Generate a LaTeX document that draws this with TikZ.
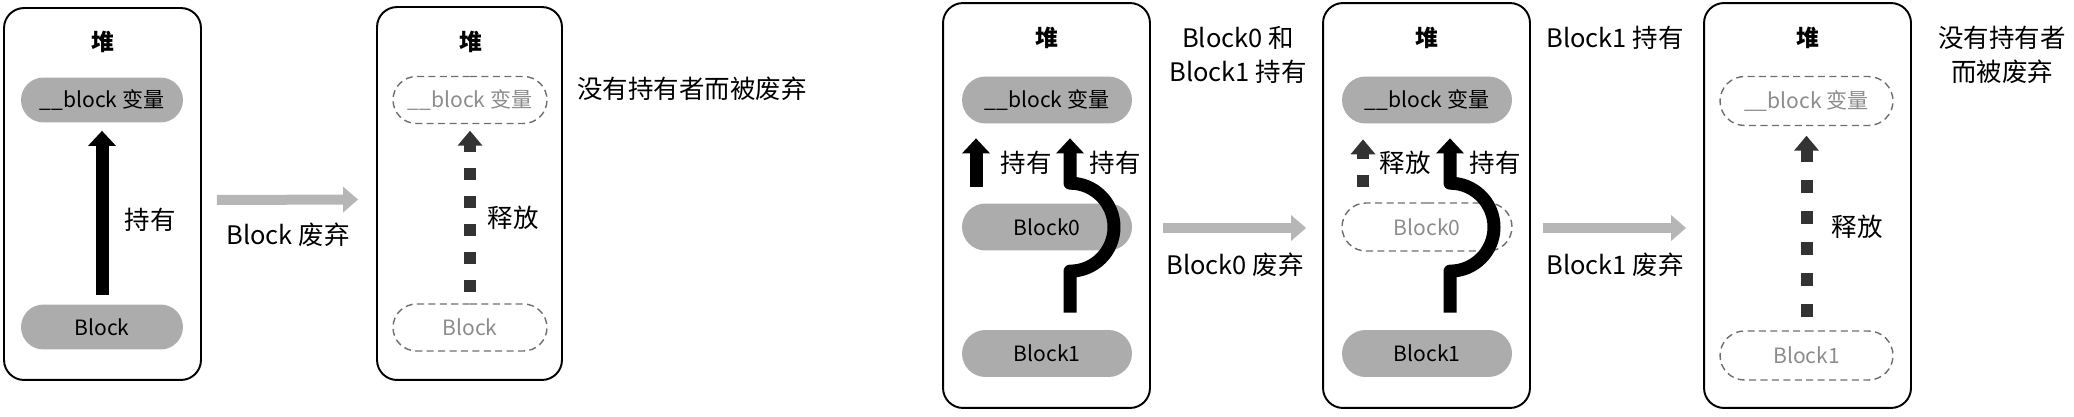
\documentclass[tikz,border=0pt]{standalone}
\usepackage{fontspec}
\setmainfont{Noto Sans CJK SC}
\usetikzlibrary{arrows.meta,shapes.misc}
\definecolor{pillgray}{RGB}{172,172,172}
\definecolor{arrowgray}{RGB}{182,182,182}
\definecolor{fadetext}{RGB}{140,140,140}
\definecolor{fadeline}{RGB}{110,110,110}
\begin{document}
\begin{tikzpicture}[x=0.02cm,y=0.02cm,
  heap/.style={draw,line width=1.1pt,rounded corners=0.4cm},
  heaptitle/.style={font=\fontsize{13}{15}\selectfont\bfseries},
  pill/.style={rounded rectangle,fill=pillgray,inner sep=0pt,font=\fontsize{12}{14}\selectfont},
  gone/.style={rounded rectangle,draw=fadeline,line width=0.8pt,dash pattern=on 4pt off 2.5pt,
    text=fadetext,inner sep=0pt,font=\fontsize{12}{14}\selectfont},
  note/.style={font=\fontsize{14.5}{19.3}\selectfont,align=center},
  hold/.style={line width=0.26cm,line join=round,-{Triangle[width=0.54cm,length=0.3cm]}},
  release/.style={black!80,line width=0.24cm,dash pattern=on 0.24cm off 0.32cm,-{Triangle[width=0.48cm,length=0.3cm]}},
  discard/.style={arrowgray,line width=0.2cm,-{Triangle[width=0.5cm,length=0.3cm]}}]
\useasboundingbox (0,0) rectangle (2074,416);
% first row: one Block
\node[heap,minimum width=3.94cm,minimum height=7.44cm] (heap1) at (102.5,222) {};
\node[heaptitle] (title1) at (103,374) {堆};
\node[pill,minimum width=3.24cm,minimum height=0.9cm] (var1) at (102,316) {\_\_block 变量};
\node[pill,minimum width=3.24cm,minimum height=0.9cm] (blk1) at (102,89) {Block};
\draw[hold] ([yshift=0.18cm]blk1.north) -- ([yshift=-0.16cm]var1.south);
\node[note] (hold1) at (150,196) {持有};

\node[heap,minimum width=3.7cm,minimum height=7.46cm] (heap2) at (469.5,222.5) {};
\node[heaptitle] (title2) at (471,374) {堆};
\node[gone,minimum width=3.08cm,minimum height=0.94cm] (var2) at (470,316) {\_\_block 变量};
\node[gone,minimum width=3.08cm,minimum height=0.94cm] (blk2) at (470,88.5) {Block};
\draw[release] ([yshift=0.22cm]blk2.north) -- ([yshift=-0.13cm]var2.south);
\node[note] (rel2) at (513,198) {释放};

\draw[discard] ([xshift=0.3cm,yshift=-0.12cm]heap1.east) -- ([xshift=-0.36cm,yshift=-0.12cm]heap2.west);
\node[note] (drop1) at (288,181) {Block 废弃};
\node[note] (free2) at (692,327) {没有持有者而被废弃};

% second row: Block0 and Block1
\foreach \n/\x in {3/1046.5,4/1426.5,5/1807.5}{
  \node[heap,minimum width=4.14cm,minimum height=8.1cm] (heap\n) at (\x,210.5) {};
  \node[heaptitle] (title\n) at (\x,378) {堆};
}
\node[pill,minimum width=3.4cm,minimum height=0.94cm] (var3) at (1047,316) {\_\_block 变量};
\node[pill,minimum width=3.4cm,minimum height=0.94cm] (blk30) at (1047,189) {Block0};
\node[pill,minimum width=3.4cm,minimum height=0.94cm] (blk31) at (1047,62.5) {Block1};
\draw[hold] ([xshift=-1.42cm,yshift=0.33cm]blk30.north) -- ([xshift=-1.42cm,yshift=-0.29cm]var3.south);
\draw[hold] ([xshift=0.46cm,yshift=0.34cm]blk31.north) -- ++(0,41.5)
  arc[start angle=-90,end angle=90,radius=0.88cm] -- ([xshift=0.46cm,yshift=-0.29cm]var3.south);
\node[note] (hold30) at (1026,253) {持有};
\node[note] (hold31) at (1115,253) {持有};
\node[note] (both3) at (1238,361) {Block0 和\\Block1 持有};

\node[pill,minimum width=3.4cm,minimum height=0.94cm] (var4) at (1427,316) {\_\_block 变量};
\node[gone,minimum width=3.4cm,minimum height=0.96cm] (blk40) at (1427,189) {Block0};
\node[pill,minimum width=3.4cm,minimum height=0.94cm] (blk41) at (1427,62.5) {Block1};
\draw[release] ([xshift=-1.28cm,yshift=0.31cm]blk40.north) -- ([xshift=-1.28cm,yshift=-0.31cm]var4.south);
\draw[hold] ([xshift=0.46cm,yshift=0.34cm]blk41.north) -- ++(0,41.5)
  arc[start angle=-90,end angle=90,radius=0.88cm] -- ([xshift=0.46cm,yshift=-0.29cm]var4.south);
\node[note] (rel40) at (1405,253) {释放};
\node[note] (hold41) at (1495,253) {持有};
\node[note] (one4) at (1615,378) {Block1 持有};

\node[gone,minimum width=3.46cm,minimum height=0.98cm] (var5) at (1806.5,315) {\_\_block 变量};
\node[gone,minimum width=3.46cm,minimum height=0.98cm] (blk51) at (1806.5,60.5) {Block1};
\draw[release,dash pattern=on 0.26cm off 0.36cm] ([yshift=0.26cm]blk51.north) -- ([yshift=-0.19cm]var5.south);
\node[note] (rel5) at (1857,189) {释放};
\node[note] (free5) at (2002,361) {没有持有者\\而被废弃};

\draw[discard] ([xshift=0.24cm,yshift=-0.45cm]heap3.east) -- ([xshift=-0.32cm,yshift=-0.45cm]heap4.west);
\node[note] (drop3) at (1235,151) {Block0 废弃};
\draw[discard] ([xshift=0.24cm,yshift=-0.45cm]heap4.east) -- ([xshift=-0.34cm,yshift=-0.45cm]heap5.west);
\node[note] (drop4) at (1615,151) {Block1 废弃};
\end{tikzpicture}
\end{document}
